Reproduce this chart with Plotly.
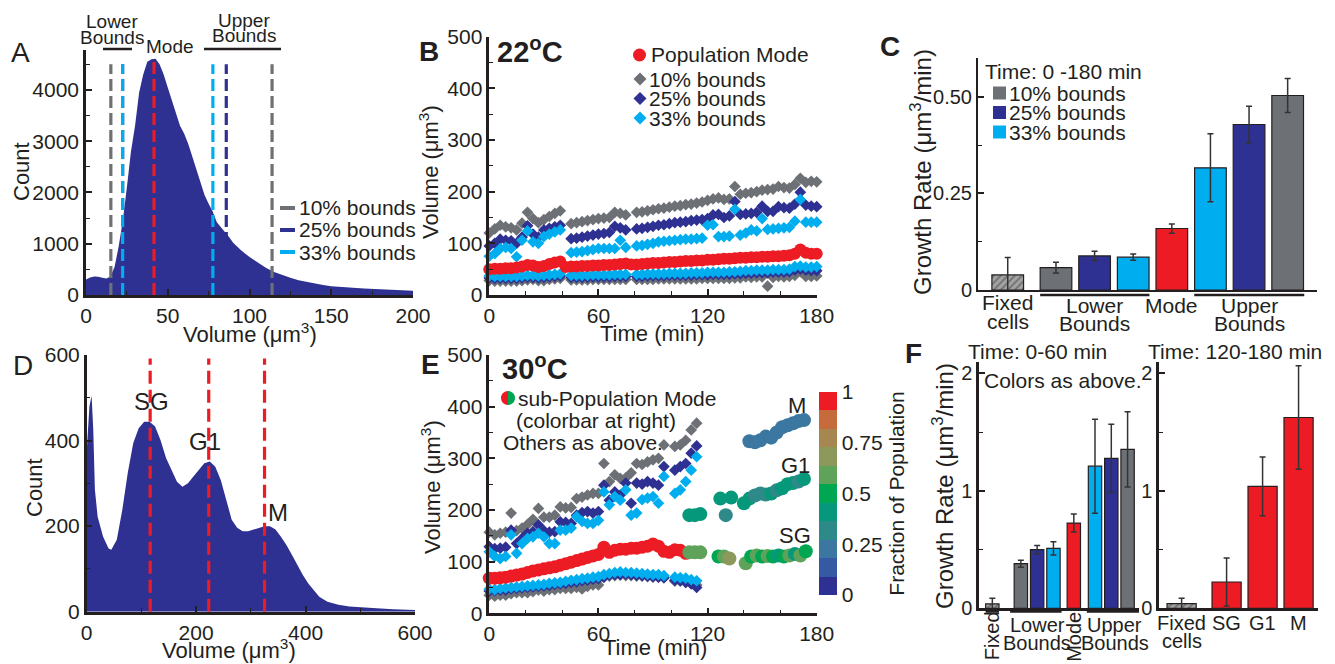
import plotly.graph_objects as go

# ---------------------------------------------------------------- DATA
# Panel A : volume histogram (22 C)
A_volume = [0, 2.5, 5, 7.5, 10, 12.5, 15, 17.5, 20, 22.5, 25, 27.5, 30, 32.5, 35, 37.5, 40, 42.5, 45, 47.5,
            50, 52.5, 55, 57.5, 60, 62.5, 65, 67.5, 70, 72.5, 75, 77.5, 80, 82.5, 85, 87.5, 90,
            95, 100, 105, 110, 115, 120, 125, 130, 135, 140, 145, 150, 160, 170, 180, 190, 200]
A_count = [300, 340, 360, 355, 335, 320, 360, 550, 950, 1450, 2100, 2800, 3300, 3950, 4300, 4550, 4600, 4610, 4500, 4300,
           4050, 3800, 3550, 3300, 3150, 2950, 2700, 2450, 2200, 1950, 1780, 1630, 1420, 1330, 1230, 1130, 1020,
           870, 740, 640, 530, 450, 390, 335, 290, 255, 225, 195, 170, 145, 125, 110, 95, 82]
A_bound_names = ["10% bounds", "25% bounds", "33% bounds"]
A_lower_bounds = [15.2, 22.4, 22.4]
A_upper_bounds = [113.8, 85.8, 77.6]
A_mode = 41.6

# Panel B : volume vs time (22 C)
B_time = [0, 3, 6, 9, 12, 15, 18, 21, 24, 27, 30, 33, 36, 39, 42, 45, 48, 51, 54, 57, 60, 63, 66, 69, 72, 75,
          78, 81, 84, 87, 90, 93, 96, 99, 102, 105, 108, 111, 114, 117, 120, 123, 126, 129, 132, 135, 138, 141,
          144, 147, 150, 153, 156, 159, 162, 165, 168, 171, 174, 177, 180]
B_mode = [50, 51, 51, 52, 52, 53, 55, 58, 57, 54, 56, 60, 63, 65, 54, 55, 55, 56, 56, 57,
          57, 58, 58, 59, 60, 61, 59, 59, 60, 61, 62, 62, 63, 64, 64, 65, 66, 66, 67, 67,
          68, 68, 69, 70, 70, 71, 72, 72, 73, 73, 74, 74, 75, 75, 76, 77, 80, 88, 82, 80, 80]
B_up10 = [120, 128, 135, 132, 130, 126, 139, 160, 148, 140, 146, 152, 158, 163, None, 138, 140, 142, 144, 146,
          148, 149, 150, 160, 158, 155, None, 160, 161, 163, 165, 167, 168, 170, 172, 173, 175, 176, 178, 180,
          183, 186, 188, 185, 186, 210, 195, 197, 198, 200, 203, 204, 205, 210, 208, 207, 214, 226, 218, 220, 219]
B_up25 = [95, 100, 108, 106, 105, 100, 112, 134, 118, 112, 126, 129, 132, 135, None, 109, 110, 112, 114, 116,
          118, 119, 121, 133, 130, 126, None, 128, 129, 131, 133, 135, 136, 138, 140, 141, 142, 144, 145, 146,
          148, 155, 156, 150, 153, 181, 156, 157, 158, 160, 172, 162, 162, 171, 169, 168, 176, 199, 174, 172, 171]
B_up33 = [75, 80, 90, 92, 90, 74, 106, 124, 103, 100, 113, 118, 122, 126, None, 82, 83, 84, 86, 88,
          90, 90, 90, 90, 106, 92, None, 95, 96, 98, 100, 103, 104, 105, 106, 107, 108, 108, 109, 110,
          135, 136, 113, 113, 114, 166, 116, 120, 126, 124, 148, 127, 128, 129, 130, 131, 143, 185, 141, 141, 141]
B_lo10 = [28, 27, 27, 27, 27, 27, 28, 29, 30, 28, 28, 30, 31, 32, None, 29, 29, 29, 29, 30,
          30, 30, 30, 30, 30, 30, None, 30, 30, 30, 30, 31, 31, 31, 31, 31, 31, 31, 31, 32,
          32, 32, 32, 32, 32, 33, 33, 35, 34, 35, 35, 17, 34, 36, 35, 36, 38, 45, 36, 36, 37]
B_lo25 = [33, 32, 32, 32, 32, 32, 33, 34, 34, 33, 34, 35, 36, 37, None, 34, 34, 34, 34, 35,
          35, 35, 35, 36, 36, 36, None, 36, 36, 37, 37, 37, 37, 38, 38, 38, 38, 38, 39, 39,
          39, 40, 40, 40, 40, 41, 41, 42, 42, 43, 43, 43, 44, 44, 44, 45, 48, 50, 48, 47, 47]
B_lo33 = [37, 36, 36, 36, 36, 36, 37, 38, 38, 37, 38, 39, 40, 41, None, 38, 38, 38, 38, 39,
          39, 39, 39, 40, 40, 40, None, 40, 40, 41, 41, 41, 41, 42, 42, 42, 42, 43, 43, 43,
          44, 44, 44, 44, 45, 45, 46, 47, 47, 48, 48, 48, 49, 49, 49, 50, 55, 56, 54, 54, 55]

# Panel C : growth rates 0-180 min (22 C)
C_categories = ["Fixed cells", "Lower 10%", "Lower 25%", "Lower 33%", "Mode", "Upper 33%", "Upper 25%", "Upper 10%"]
C_rate = [0.039, 0.058, 0.088, 0.085, 0.159, 0.316, 0.428, 0.503]
C_err = [0.045, 0.014, 0.012, 0.008, 0.012, 0.088, 0.047, 0.044]

# Panel D : volume histogram (30 C)
D_volume = [0, 5, 9, 12, 15, 20, 30, 40, 45, 55, 65, 75, 85, 95, 105, 115, 125, 135, 145, 155, 165, 175, 185,
            195, 205, 215, 225, 235, 245, 255, 265, 275, 285, 295, 305, 315, 325, 335, 345, 355, 365, 375,
            385, 395, 405, 415, 425, 440, 460, 480, 500, 530, 560, 600]
D_count = [375, 480, 505, 425, 285, 222, 175, 148, 145, 168, 238, 324, 394, 429, 444, 444, 433, 401, 359, 331,
           304, 292, 300, 316, 331, 347, 351, 339, 308, 262, 215, 196, 188, 188, 192, 196, 200, 200, 192,
           175, 156, 133, 109, 86, 66, 51, 35, 23, 16, 12, 10, 8, 6, 4]
D_sub_names = ["SG", "G1", "M"]
D_sub_modes = [116, 223, 325]

# Panel E : volume vs time (30 C)
E_time = [0, 3, 6, 9, 12, 15, 18, 21, 24, 27, 30, 33, 36, 39, 42, 45, 48, 51, 54, 57, 60, 63, 66, 69, 72,
          75, 78, 81, 84, 87, 90, 93, 96, 99, 102, 105, 108, 111, 114]
E_mode = [68, 68, 69, 70, 72, 74, 76, 79, 82, 84, 86, 88, 90, 93, 96, 99, 102, 105, 108, 111,
          114, 128, 118, 122, 124, 124, 126, 126, 128, 130, 134, 130, 120, 118, 123, 122, 116, None, None]
E_up10 = [157, 152, 155, 157, 194, 160, 165, 172, 182, 203, 186, 186, 190, 206, 204, 205, 222, 225, 229, 232,
          232, 290, 255, 268, 261, 262, 272, 290, 288, 293, 297, 300, 326, None, 323, 326, 335, 355, 368]
E_up25 = [129, 125, 126, 128, 161, 135, 145, 155, 158, 171, 160, 157, 158, 177, 176, 174, 190, 195, 197, 194,
          197, 248, 219, 235, 229, 252, 213, 252, 250, 255, 252, 248, 284, None, 277, 284, 290, 310, 324]
E_up33 = [119, 110, 106, 110, 152, 116, 135, 145, 148, 155, 148, 135, 135, 161, 161, 165, 187, 178, 174, 174,
          180, 235, 210, 226, 219, 239, 190, 194, 220, 223, 226, 213, 265, None, 232, 239, 255, 277, 303]
E_lo10 = [35, 33, 35, 35, 38, 40, 40, 40, 42, 45, 43, 46, 46, 48, 48, 48, 50, 47, 52, 55,
          55, 70, 72, 73, 74, 73, 73, 72, 72, 71, 70, 70, 69, None, 62, 62, 60, 58, 55]
E_lo25 = [43, 44, 45, 45, 47, 48, 49, 50, 51, 52, 53, 54, 56, 57, 58, 60, 61, 63, 64, 66,
          67, 70, 74, 75, 75, 76, 75, 74, 73, 72, 71, 70, 69, None, 64, 63, 60, 57, 50]
E_lo33 = [47, 46, 48, 49, 50, 51, 52, 53, 54, 55, 56, 58, 59, 60, 62, 64, 65, 67, 68, 70,
          71, 75, 77, 79, 80, 79, 79, 78, 77, 76, 75, 75, 73, None, 70, 69, 68, 65, 63]
# sub-population modes: time, volume, fraction of population
SG_time = [110, 113, 116, 126, 129, 132, 141, 144, 147, 150, 153, 156, 159, 162, 165, 168, 171, 174]
SG_vol = [118, 118, 118, 110, 110, 106, 97, 110, 112, 110, 111, 110, 112, 110, 112, 115, 112, 120]
SG_frac = [0.62, 0.62, 0.62, 0.5, 0.6, 0.65, 0.63, 0.5, 0.55, 0.5, 0.55, 0.5, 0.45, 0.5, 0.55, 0.45, 0.55, 0.5]
G1_time = [110, 113, 116, 127, 130, 133, 140, 143, 146, 149, 152, 155, 158, 161, 164, 167, 170, 173]
G1_vol = [190, 190, 192, 222, 190, 224, 213, 222, 228, 232, 230, 232, 238, 242, 250, 252, 255, 260]
G1_frac = [0.42, 0.42, 0.42, 0.42, 0.3, 0.42, 0.42, 0.4, 0.35, 0.3, 0.3, 0.38, 0.35, 0.42, 0.42, 0.4, 0.3, 0.42]
M_time = [143, 146, 149, 152, 155, 158, 161, 164, 167, 170, 173]
M_vol = [333, 331, 335, 342, 340, 350, 360, 364, 368, 372, 374]
M_frac = [0.22, 0.22, 0.22, 0.22, 0.22, 0.22, 0.22, 0.22, 0.22, 0.22, 0.22]

# Panel F : growth rates (30 C)
F1_categories = ["Fixed", "Lower 10%", "Lower 25%", "Lower 33%", "Mode", "Upper 33%", "Upper 25%", "Upper 10%"]
F1_rate = [0.037, 0.38, 0.50, 0.51, 0.726, 1.21, 1.277, 1.353]
F1_err = [0.048, 0.03, 0.035, 0.057, 0.077, 0.40, 0.29, 0.32]
F2_categories = ["Fixed cells", "SG", "G1", "M"]
F2_rate = [0.04, 0.224, 1.038, 1.625]
F2_err = [0.045, 0.204, 0.25, 0.44]

# ---------------------------------------------------------------- STYLE
W, H = 1335, 664
OFF = 8          # the page's default body margin shifts the figure by this many pixels
FONT = "Liberation Sans, Arial, Helvetica, sans-serif"
INK = "#231f20"
NAVY = "#2e3192"
CYAN = "#00aeef"
GRAY = "#6d7176"
RED = "#ed1c24"
BOUND_COLORS = [GRAY, NAVY, CYAN]
CB_COLORS = ["#2e3192", "#3559a3", "#3b77a0", "#2e8a88", "#06987a", "#00a651",
             "#5fa35a", "#8d995a", "#a5874f", "#c66b3b", "#ed1c24"]
HATCH = dict(fgcolor="#2f2f2f", fillmode="overlay", size=5, solidity=0.4)


def px(x):
    return (x - OFF) / W


def py(y):
    return 1 - (y - OFF) / H


def cat_color(name):
    if name.startswith("Fixed"):
        return "#a3a3a3"
    if name == "Mode" or name in ("SG", "G1", "M"):
        return RED
    if name.endswith("10%"):
        return GRAY
    if name.endswith("25%"):
        return NAVY
    return CYAN


fig = go.Figure()

# ---------------- A
fig.add_trace(go.Scatter(x=A_volume, y=A_count, mode="lines", fill="tozeroy", fillcolor=NAVY,
                         line=dict(width=0, color=NAVY), xaxis="x", yaxis="y"))
for lo, up, col in zip(A_lower_bounds, A_upper_bounds, BOUND_COLORS):
    for v in (lo, up):
        fig.add_trace(go.Scatter(x=[v, v], y=[0, 4500], mode="lines",
                                 line=dict(color=col, width=3.2, dash="12px,5px"), xaxis="x", yaxis="y"))
fig.add_trace(go.Scatter(x=[A_mode, A_mode], y=[0, 4620], mode="lines",
                         line=dict(color=RED, width=3.2, dash="12px,5px"), xaxis="x", yaxis="y"))

# ---------------- B
for ser, col in ((B_lo10, GRAY), (B_up10, GRAY), (B_lo25, NAVY), (B_up25, NAVY), (B_lo33, CYAN), (B_up33, CYAN)):
    fig.add_trace(go.Scatter(x=B_time, y=ser, mode="markers", cliponaxis=False,
                             marker=dict(symbol="diamond", size=9, color=col, line=dict(width=0)),
                             xaxis="x2", yaxis="y2"))
fig.add_trace(go.Scatter(x=B_time, y=B_mode, mode="markers", cliponaxis=False,
                         marker=dict(symbol="circle", size=12, color=RED, line=dict(width=0)),
                         xaxis="x2", yaxis="y2"))

# ---------------- C
C_pos = [0, 1.25, 2.25, 3.25, 4.25, 5.25, 6.25, 7.25]
fig.add_trace(go.Bar(x=C_pos, y=C_rate, width=0.82,
                     marker=dict(color=[cat_color(c) for c in C_categories],
                                 line=dict(color=INK, width=1.2),
                                 pattern=dict(shape=["/"] + [""] * 7, **HATCH)),
                     error_y=dict(type="data", array=C_err, color="#333333", thickness=1.5, width=3),
                     xaxis="x3", yaxis="y3"))

# ---------------- D
fig.add_trace(go.Scatter(x=D_volume, y=D_count, mode="lines", fill="tozeroy", fillcolor=NAVY,
                         line=dict(width=0, color=NAVY), xaxis="x4", yaxis="y4"))
for v in D_sub_modes:
    fig.add_trace(go.Scatter(x=[v, v], y=[0, 592], mode="lines",
                             line=dict(color=RED, width=3.2, dash="13px,6px"), xaxis="x4", yaxis="y4"))

# ---------------- E
for ser, col in ((E_lo10, GRAY), (E_up10, GRAY), (E_lo25, NAVY), (E_up25, NAVY), (E_lo33, CYAN), (E_up33, CYAN)):
    fig.add_trace(go.Scatter(x=E_time, y=ser, mode="markers", cliponaxis=False,
                             marker=dict(symbol="diamond", size=9, color=col, line=dict(width=0)),
                             xaxis="x5", yaxis="y5"))
fig.add_trace(go.Scatter(x=E_time, y=E_mode, mode="markers", cliponaxis=False,
                         marker=dict(symbol="circle", size=13, color=RED, line=dict(width=0)),
                         xaxis="x5", yaxis="y5"))
for t, v, f in ((SG_time, SG_vol, SG_frac), (G1_time, G1_vol, G1_frac), (M_time, M_vol, M_frac)):
    fig.add_trace(go.Scatter(x=t, y=v, mode="markers", cliponaxis=False,
                             marker=dict(symbol="circle", size=14, color=f, coloraxis="coloraxis",
                                         line=dict(width=0)),
                             xaxis="x5", yaxis="y5"))

# ---------------- F
F1_pos = [0, 1.75, 2.75, 3.75, 5.0, 6.3, 7.3, 8.3]
fig.add_trace(go.Bar(x=F1_pos, y=F1_rate, width=0.82,
                     marker=dict(color=[cat_color(c) for c in F1_categories],
                                 line=dict(color=INK, width=1.2),
                                 pattern=dict(shape=["/"] + [""] * 7, **HATCH)),
                     error_y=dict(type="data", array=F1_err, color="#333333", thickness=1.5, width=3),
                     xaxis="x6", yaxis="y6"))
F2_pos = [0, 1.25, 2.25, 3.25]
fig.add_trace(go.Bar(x=F2_pos, y=F2_rate, width=0.81,
                     marker=dict(color=[cat_color(c) for c in F2_categories],
                                 line=dict(color=INK, width=1.2),
                                 pattern=dict(shape=["/", "", "", ""], **HATCH)),
                     error_y=dict(type="data", array=F2_err, color="#333333", thickness=1.5, width=3),
                     xaxis="x7", yaxis="y7"))


# ---------------------------------------------------------------- AXES
def ax(domain, rng, **kw):
    d = dict(domain=domain, range=rng, showline=True, linecolor=INK, linewidth=2.5, automargin=False,
             ticks="inside", ticklen=6, tickwidth=1.5, tickcolor=INK, showgrid=False, zeroline=False,
             tickfont=dict(size=21, color=INK, family=FONT), fixedrange=True)
    d.update(kw)
    return d


def minor(**kw):
    d = dict(ticks="inside", ticklen=4, tickwidth=1.2, tickcolor=INK, showgrid=False)
    d.update(kw)
    return d


cs = []
n = len(CB_COLORS)
for i, c in enumerate(CB_COLORS):
    cs.append([i / n, c])
    cs.append([(i + 1) / n, c])

fig.update_layout(
    template="none",
    width=W, height=H, margin=dict(l=0, r=0, t=0, b=0, pad=0, autoexpand=False), autosize=False,
    paper_bgcolor="white", plot_bgcolor="rgba(0,0,0,0)", showlegend=False,
    font=dict(family=FONT, color=INK, size=21),
    xaxis=ax([px(86), px(413)], [0, 200], anchor="y", dtick=50, tick0=0, minor=minor(dtick=25)),
    yaxis=ax([py(295), py(50)], [0, 4780], anchor="x", dtick=1000, tick0=0, tickformat="d",
             minor=minor(dtick=500)),
    xaxis2=ax([px(489.3), px(816.7)], [0, 180], anchor="y2", dtick=60, tick0=0, minor=minor(dtick=20)),
    yaxis2=ax([py(295), py(36.7)], [0, 500], anchor="x2", dtick=100, tick0=0, minor=minor(dtick=50)),
    xaxis3=ax([px(978), px(1317)], [-0.77, 8.01], anchor="y3", showticklabels=False, ticks="", linewidth=2),
    yaxis3=ax([py(290), py(58)], [0, 0.6], anchor="x3", tickvals=[0, 0.25, 0.5], ticktext=["0", "0.25", "0.50"],
              tickfont=dict(size=20, color=INK, family=FONT), linewidth=2,
              minor=minor(tickvals=[0.125, 0.375])),
    xaxis4=ax([px(86.7), px(415)], [0, 600], anchor="y4", dtick=200, tick0=0, minor=minor(dtick=100)),
    yaxis4=ax([py(611.7), py(355)], [0, 600], anchor="x4", dtick=200, tick0=0, minor=minor(dtick=100)),
    xaxis5=ax([px(489.3), px(816.7)], [0, 180], anchor="y5", dtick=60, tick0=0, minor=minor(dtick=20)),
    yaxis5=ax([py(613.3), py(355)], [0, 500], anchor="x5", dtick=100, tick0=0, minor=minor(dtick=50)),
    xaxis6=ax([px(979.3), px(1139)], [-0.8, 9.0], anchor="y6", showticklabels=False, ticks="", linewidth=2.5),
    yaxis6=ax([py(608.3), py(361.7)], [0, 2.1], anchor="x6", tickvals=[0, 1, 2],
              tickfont=dict(size=20, color=INK, family=FONT), linewidth=3, minor=minor(tickvals=[0.5, 1.5])),
    xaxis7=ax([px(1159.3), px(1318)], [-0.62, 3.79], anchor="y7", showticklabels=False, ticks="", linewidth=2.5),
    yaxis7=ax([py(608.3), py(361.7)], [0, 2.1], anchor="x7", tickvals=[0, 1, 2],
              tickfont=dict(size=20, color=INK, family=FONT), linewidth=3, minor=minor(tickvals=[0.5, 1.5])),
    coloraxis=dict(cmin=0, cmax=1, colorscale=cs,
                   colorbar=dict(x=px(819.3), xanchor="left", xref="paper", xpad=0,
                                 y=py(595), yanchor="bottom", yref="paper", ypad=0,
                                 lenmode="pixels", len=203, thicknessmode="pixels", thickness=17.5,
                                 outlinewidth=0, ticks="", tickvals=[0, 0.25, 0.5, 0.75, 1],
                                 ticktext=["0", "0.25", "0.5", "0.75", "1"],
                                 tickfont=dict(size=21, color=INK, family=FONT),
                                 title=dict(text="Fraction of Population", side="right",
                                            font=dict(size=21, color=INK, family=FONT)))),
)

# ---------------------------------------------------------------- ANNOTATIONS & SHAPES
anns = []
shapes = []


def txt(t, x, y, size=21, xanchor="center", angle=0, xref="paper", yref="paper"):
    xx = x if xref != "paper" else px(x)
    yy = y if yref != "paper" else py(y)
    anns.append(dict(text=t, x=xx, y=yy, xref=xref, yref=yref, showarrow=False, xanchor=xanchor,
                     yanchor="middle", textangle=angle, font=dict(size=size, family=FONT, color=INK)))


def hline(x0, x1, y, color=INK, width=2.5, xref="paper"):
    if xref == "paper":
        x0, x1 = px(x0), px(x1)
    shapes.append(dict(type="line", xref=xref, yref="paper", x0=x0, x1=x1, y0=py(y), y1=py(y),
                       line=dict(color=color, width=width)))


def diamond(cx, cy, r, color):
    pts = [(cx, cy - r), (cx + r, cy), (cx, cy + r), (cx - r, cy)]
    p = "M " + " L ".join("{:.5f},{:.5f}".format(px(a), py(b)) for a, b in pts) + " Z"
    shapes.append(dict(type="path", xref="paper", yref="paper", path=p, fillcolor=color, line=dict(width=0)))


def half_circle(cx, cy, r, side, color):
    k = 0.5523
    s = -1 if side == "left" else 1
    pts = [(cx, cy - r), (cx + s * k * r, cy - r), (cx + s * r, cy - k * r), (cx + s * r, cy),
           (cx + s * r, cy + k * r), (cx + s * k * r, cy + r), (cx, cy + r)]
    c = ["{:.5f},{:.5f}".format(px(a), py(b)) for a, b in pts]
    p = "M {} C {} {} {} C {} {} {} Z".format(*c)
    shapes.append(dict(type="path", xref="paper", yref="paper", path=p, fillcolor=color, line=dict(width=0)))


def rect(x0, y0, x1, y1, color):
    shapes.append(dict(type="rect", xref="paper", yref="paper", x0=px(x0), x1=px(x1), y0=py(y1), y1=py(y0),
                       fillcolor=color, line=dict(width=0)))


# panel letters
txt("A", 20, 52, 28)
txt("<b>B</b>", 429, 51, 28)
txt("<b>C</b>", 890, 46, 28)
txt("D", 23, 365, 28)
txt("<b>E</b>", 431, 364, 28)
txt("<b>F</b>", 913, 353, 28)

# A
txt("Count", 22, 172, 22, angle=-90)
txt("Volume (μm<sup>3</sup>)", 250, 333, 22)
txt("Lower", 112, 21, 19)
txt("Bounds", 112, 37.5, 19)
txt("Mode", 170, 47, 19)
txt("Upper", 243.5, 20, 19)
txt("Bounds", 243.5, 36, 19)
hline(103, 132, 49)
hline(204, 281, 49)
for i, (name, col) in enumerate(zip(A_bound_names, BOUND_COLORS)):
    yy = 208 + 22 * i
    hline(280, 295, yy, color=col, width=4)
    txt(name, 297, yy, 21, xanchor="left")

# B
txt("Volume (μm<sup>3</sup>)", 429, 172, 22, angle=-90)
txt("Time (min)", 652, 333, 22)
txt("<b>22<sup>o</sup>C</b>", 530, 50, 29)
shapes.append(dict(type="circle", xref="paper", yref="paper", x0=px(633), x1=px(646), y0=py(61.5), y1=py(48.5),
                   fillcolor=RED, line=dict(width=0)))
txt("Population Mode", 649, 55, 21, xanchor="left")
for i, (name, col) in enumerate(zip(A_bound_names, BOUND_COLORS)):
    yy = 79 + 19.5 * i
    diamond(640, yy, 6.5, col)
    txt(name, 647, yy, 21, xanchor="left")

# C
txt("Growth Rate (μm<sup>3</sup>/min)", 921, 172, 24, angle=-90)
txt("Time: 0 -180 min", 983, 72, 21, xanchor="left")
for i, (name, col) in enumerate(zip(A_bound_names, BOUND_COLORS)):
    yy = 93 + 19.5 * i
    rect(993, yy - 6.5, 1006, yy + 6.5, col)
    txt(name, 1007, yy, 21, xanchor="left")
txt("Fixed", C_pos[0], 302.5, 21, xref="x3")
txt("cells", C_pos[0], 321, 21, xref="x3")
txt("Lower", C_pos[2], 305, 21, xref="x3")
txt("Bounds", C_pos[2], 323.5, 21, xref="x3")
txt("Mode", C_pos[4], 305, 21, xref="x3")
txt("Upper", C_pos[6], 305, 21, xref="x3")
txt("Bounds", C_pos[6], 323.5, 21, xref="x3")
hline(C_pos[1] - 0.41, C_pos[3] + 0.42, 295, xref="x3", width=2.5)
hline(C_pos[5] - 0.42, C_pos[7] + 0.43, 295, xref="x3", width=2.5)

# D
txt("Count", 34, 488, 22, angle=-90)
txt("Volume (μm<sup>3</sup>)", 229, 649, 22)
txt("SG", 151, 401, 24)
txt("G1", 205, 441, 24)
txt("M", 277.5, 512, 24)

# E
txt("Volume (μm<sup>3</sup>)", 431, 487, 22, angle=-90)
txt("Time (min)", 655, 647, 22)
txt("<b>30<sup>o</sup>C</b>", 535, 367, 29)
half_circle(508, 398, 7, "left", RED)
half_circle(508, 398, 7, "right", "#00a651")
txt("sub-Population Mode", 516, 398, 21, xanchor="left")
txt("(colorbar at right)", 514, 420.5, 21, xanchor="left")
txt("Others as above.", 501, 442, 21, xanchor="left")
txt("M", 797, 405, 22)
txt("G1", 795, 465, 22)
txt("SG", 795, 535, 22)

# F
txt("Growth Rate (μm<sup>3</sup>/min)", 943, 486, 24, angle=-90)
txt("Time: 0-60 min", 1037.5, 351, 21)
txt("Time: 120-180 min", 1235, 351, 21)
txt("Colors as above.", 982, 380, 21, xanchor="left")
txt("Fixed", F1_pos[0], 636, 20, xref="x6", angle=-90)
txt("Lower", F1_pos[2], 624.5, 20, xref="x6")
txt("Bounds", F1_pos[2], 642.5, 20, xref="x6")
txt("Mode", F1_pos[4], 637, 20, xref="x6", angle=-90)
txt("Upper", F1_pos[6] + 0.2, 624.5, 20, xref="x6")
txt("Bounds", F1_pos[6] + 0.2, 642.5, 20, xref="x6")
hline(F1_pos[0] - 0.41, F1_pos[0] + 0.41, 611.7, xref="x6", width=2)
hline(F1_pos[1] - 0.66, F1_pos[3] + 0.5, 611.7, xref="x6", width=2)
hline(F1_pos[5] - 0.5, F1_pos[7] + 0.7, 611.7, xref="x6", width=2)
txt("Fixed", F2_pos[0], 622.5, 20, xref="x7")
txt("cells", F2_pos[0], 640.5, 20, xref="x7")
for p_, name in zip(F2_pos[1:], F2_categories[1:]):
    txt(name, p_, 623, 20, xref="x7")

fig.update_layout(annotations=anns, shapes=shapes)
fig.write_html("out.html")
